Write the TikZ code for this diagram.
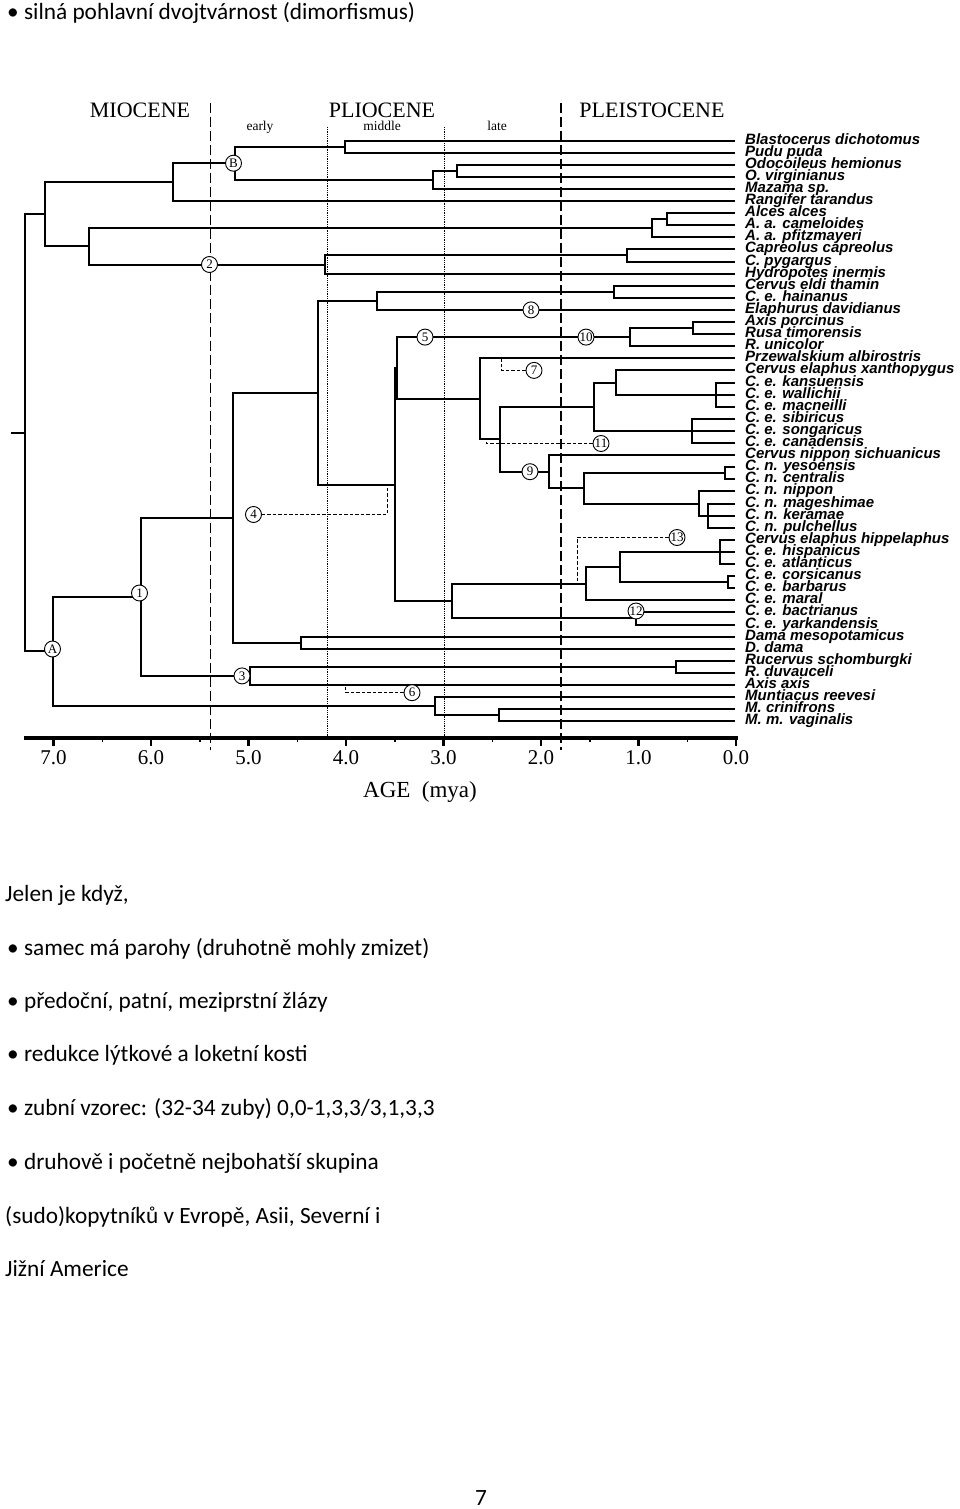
\documentclass[tikz,border=0pt]{standalone}
\usepackage{fontspec}
\setmainfont{Carlito}
\newfontfamily\labfont{Liberation Sans}
\newfontfamily\serfont{Liberation Serif}
\newcommand\brn[2]{\draw[br] (#1) |- (#2);}
\begin{document}
\begin{tikzpicture}[x=1pt,y=-1pt,
  br/.style={line width=2pt, line join=miter},
  lead/.style={line width=0.8pt, dash pattern=on 3.5pt off 2pt},
  epochline/.style={line width=1.4pt, dash pattern=on 10pt off 4pt},
  subline/.style={line width=0.9pt, dash pattern=on 0.9pt off 0.9pt},
  cl/.style={circle, draw, fill=white, line width=0.9pt, inner sep=0pt, minimum size=16pt, font=\serfont\fontsize{13}{13}\selectfont},
  sp/.style={anchor=base west, inner sep=0pt, font=\labfont\bfseries\itshape\fontsize{15}{15}\selectfont},
  body/.style={anchor=base west, inner sep=0pt, font=\fontsize{23.3}{23.3}\selectfont},
  ep/.style={anchor=base, inner sep=0pt, font=\serfont\fontsize{22}{22}\selectfont},
  sub/.style={anchor=base, inner sep=0pt, font=\serfont\fontsize{13.5}{13.5}\selectfont},
  ax/.style={anchor=base, inner sep=0pt, font=\serfont\fontsize{21}{21}\selectfont},
  axline/.style={line width=4pt},
  majt/.style={line width=2.5pt},
  mint/.style={line width=1.5pt},
]
\useasboundingbox (0,0) rectangle (960,1509);
\fill[white] (0,0) rectangle (960,1509);

% epoch boundaries
\draw[epochline] (210.5,103) -- (210.5,750);
\draw[epochline] (561,103) -- (561,750);
\draw[subline] (327,127) -- (327,737);
\draw[subline] (444,127) -- (444,737);

\node[ep] (eMio) at (140,117.5) {MIOCENE};
\node[ep] (ePli) at (382,117.5) {PLIOCENE};
\node[ep] (ePle) at (652,117.5) {PLEISTOCENE};
\node[sub] (sEar) at (260,130.5) {early};
\node[sub] (sMid) at (382,130.5) {middle};
\node[sub] (sLat) at (497,130.5) {late};

% tips and species labels
\foreach \i/\s in {0/Blastocerus dichotomus,1/Pudu puda,2/Odocoileus hemionus,3/O. virginianus,4/Mazama sp.,5/Rangifer tarandus,6/Alces alces,7/A. a. cameloides,8/A. a. pfitzmayeri,9/Capreolus capreolus,10/C. pygargus,11/Hydropotes inermis,12/Cervus eldi thamin,13/C. e. hainanus,14/Elaphurus davidianus,15/Axis porcinus,16/Rusa timorensis,17/R. unicolor,18/Przewalskium albirostris,19/Cervus elaphus xanthopygus,20/C. e. kansuensis,21/C. e. wallichii,22/C. e. macneilli,23/C. e. sibiricus,24/C. e. songaricus,25/C. e. canadensis,26/Cervus nippon sichuanicus,27/C. n. yesoensis,28/C. n. centralis,29/C. n. nippon,30/C. n. mageshimae,31/C. n. keramae,32/C. n. pulchellus,33/Cervus elaphus hippelaphus,34/C. e. hispanicus,35/C. e. atlanticus,36/C. e. corsicanus,37/C. e. barbarus,38/C. e. maral,39/C. e. bactrianus,40/C. e. yarkandensis,41/Dama mesopotamicus,42/D. dama,43/Rucervus schomburgki,44/R. duvauceli,45/Axis axis,46/Muntiacus reevesi,47/M. crinifrons,48/M. m. vaginalis}
{
  \pgfmathsetmacro\yy{140.5+12.1*\i}
  \coordinate (t\i) at (735,\yy);
  \node[sp] (s\i) at (745,\yy+3.5) {\s};
}

% internal nodes
\coordinate (nBla) at (345,146.55);
\coordinate (nOdo) at (457,170.75);
\coordinate (nOdM) at (433,179.825);
\coordinate (nB) at (235,163.19);
\coordinate (nRan) at (173,182.1);
\coordinate (nAlc) at (667,219.15);
\coordinate (nAlA) at (652,228.225);
\coordinate (nCap) at (627,255.45);
\coordinate (nHyd) at (325,264.525);
\coordinate (nCH) at (89,246.375);
\coordinate (nCapr) at (45,214.24);
\coordinate (nEld) at (614,291.75);
\coordinate (nEla) at (377,300.825);
\coordinate (nAxp) at (693,328.05);
\coordinate (nRus) at (630,337.125);
\coordinate (nKan) at (716,394.6);
\coordinate (nXan) at (616,382.5);
\coordinate (nSib) at (692,430.9);
\coordinate (nEl1) at (594,406.7);
\coordinate (nYes) at (725,473.25);
\coordinate (nMag) at (708,515.6);
\coordinate (nNip) at (699,503.5);
\coordinate (nNi2) at (584,488.375);
\coordinate (nSic) at (549,471.7375);
\coordinate (nEN) at (500,439.22);
\coordinate (nPrz) at (480,398.76);
\coordinate (nZa) at (396.5,367.94);
\coordinate (nHip) at (720,551.9);
\coordinate (nCor) at (728,582.15);
\coordinate (nWe) at (620,567.03);
\coordinate (nMar) at (586,583.66);
\coordinate (nBac) at (636,618.45);
\coordinate (nEl2) at (452,601.06);
\coordinate (nZb) at (395,484.5);
\coordinate (nCer) at (318,392.66);
\coordinate (nDam) at (301,642.65);
\coordinate (nCD) at (232.7,517.66);
\coordinate (nRuc) at (676,666.85);
\coordinate (n3) at (250,675.93);
\coordinate (n1) at (141,596.8);
\coordinate (nMu2) at (499,715.25);
\coordinate (nMun) at (435,706.18);
\coordinate (nA) at (53,651.49);
\coordinate (nRoot) at (25,432.86);
\coordinate (rootStub) at (11,432.86);

% branches
\brn{nBla}{t0} \brn{nBla}{t1}
\brn{nOdo}{t2} \brn{nOdo}{t3}
\brn{nOdM}{nOdo} \brn{nOdM}{t4}
\brn{nB}{nBla} \brn{nB}{nOdM}
\brn{nRan}{nB} \brn{nRan}{t5}
\brn{nAlc}{t6} \brn{nAlc}{t7}
\brn{nAlA}{nAlc} \brn{nAlA}{t8}
\brn{nCap}{t9} \brn{nCap}{t10}
\brn{nHyd}{nCap} \brn{nHyd}{t11}
\brn{nCH}{nAlA} \brn{nCH}{nHyd}
\brn{nCapr}{nRan} \brn{nCapr}{nCH}
\brn{nEld}{t12} \brn{nEld}{t13}
\brn{nEla}{nEld} \brn{nEla}{t14}
\brn{nAxp}{t15} \brn{nAxp}{t16}
\brn{nRus}{nAxp} \brn{nRus}{t17}
\brn{nKan}{t20} \brn{nKan}{t21} \brn{nKan}{t22}
\brn{nXan}{t19} \brn{nXan}{nKan}
\brn{nSib}{t23} \brn{nSib}{t24} \brn{nSib}{t25}
\brn{nEl1}{nXan} \brn{nEl1}{nSib}
\brn{nYes}{t27} \brn{nYes}{t28}
\brn{nMag}{t30} \brn{nMag}{t31} \brn{nMag}{t32}
\brn{nNip}{t29} \brn{nNip}{nMag}
\brn{nNi2}{nYes} \brn{nNi2}{nNip}
\brn{nSic}{t26} \brn{nSic}{nNi2}
\brn{nEN}{nEl1} \brn{nEN}{nSic}
\brn{nPrz}{t18} \brn{nPrz}{nEN}
\brn{nZa}{nRus} \brn{nZa}{nPrz}
\brn{nHip}{t33} \brn{nHip}{t34} \brn{nHip}{t35}
\brn{nCor}{t36} \brn{nCor}{t37}
\brn{nWe}{nHip} \brn{nWe}{nCor}
\brn{nMar}{nWe} \brn{nMar}{t38}
\brn{nBac}{t39} \brn{nBac}{t40}
\brn{nEl2}{nMar} \brn{nEl2}{nBac}
\brn{nZb}{nZa} \brn{nZb}{nEl2}
\brn{nCer}{nEla} \brn{nCer}{nZb}
\brn{nDam}{t41} \brn{nDam}{t42}
\brn{nCD}{nCer} \brn{nCD}{nDam}
\brn{nRuc}{t43} \brn{nRuc}{t44}
\brn{n3}{nRuc} \brn{n3}{t45}
\brn{n1}{nCD} \brn{n1}{n3}
\brn{nMu2}{t47} \brn{nMu2}{t48}
\brn{nMun}{t46} \brn{nMun}{nMu2}
\brn{nA}{n1} \brn{nA}{nMun}
\brn{nRoot}{nCapr} \brn{nRoot}{nA}
\draw[br] (rootStub) -- (nRoot);

% node circles
\node[cl] (cA) at (52.5,649) {A};
\node[cl] (cB) at (233.5,163.2) {B};
\node[cl] (c1) at (139.5,593) {1};
\node[cl] (c2) at (209.5,264.5) {2};
\node[cl] (c3) at (242,675.9) {3};
\node[cl] (c4) at (253.5,514.5) {4};
\node[cl] (c5) at (425,337.1) {5};
\node[cl] (c6) at (412,692.7) {6};
\node[cl] (c7) at (534,370.4) {7};
\node[cl] (c8) at (531,309.9) {8};
\node[cl] (c9) at (530,471.7) {9};
\node[cl] (c10) at (586,337.1) {10};
\node[cl] (c11) at (601,443.5) {11};
\node[cl] (c12) at (636,611) {12};
\node[cl] (c13) at (677,537.5) {13};

% dashed leaders
\coordinate (d4) at (387,484.5);
\coordinate (d6) at (345.3,685);
\coordinate (d7) at (501,358.3);
\coordinate (d11) at (486,439.22);
\coordinate (d13) at (577,583.66);
\draw[lead] (c4.east) -| (d4);
\draw[lead] (c6.west) -| (d6);
\draw[lead] (c7.west) -| (d7);
\draw[lead] (c11.west) -| (d11);
\draw[lead] (c13.west) -| (d13);

% time axis
\draw[axline] (24,737.5) -- (738,737.5);
\foreach \t in {0,...,7}{
  \pgfmathsetmacro\xx{736-97.5*\t}
  \draw[majt] (\xx,737.5) -- (\xx,746);
  \node[ax] (ax\t) at (\xx,764) {\t.0};
}
\foreach \t in {0,...,6}{
  \pgfmathsetmacro\xx{736-97.5*(\t+0.5)}
  \draw[mint] (\xx,737.5) -- (\xx,742);
}
\node[anchor=base, inner sep=0pt, font=\serfont\fontsize{23}{23}\selectfont] (axTitle) at (420,797.5) {AGE\ \ (mya)};

% text
\node[body] (h0) at (7,19.5) {• silná pohlavní dvojtvárnost (dimorfismus)};
\node[body] (b0) at (5,901) {Jelen je když,};
\node[body] (b1) at (7,955) {• samec má parohy (druhotně mohly zmizet)};
\node[body] (b2) at (7,1008) {• předoční, patní, meziprstní žlázy};
\node[body] (b3) at (7,1061) {• redukce lýtkové a loketní kosti};
\node[body] (b4) at (7,1115) {• zubní vzorec: (32-34 zuby) 0,0-1,3,3/3,1,3,3};
\node[body] (b5) at (7,1169) {• druhově i početně nejbohatší skupina};
\node[body] (b6) at (5,1223) {(sudo)kopytníků v Evropě, Asii, Severní i};
\node[body] (b7) at (5,1276) {Jižní Americe};
\node[anchor=base, inner sep=0pt, font=\fontsize{23.3}{23.3}\selectfont] (pg) at (481,1505) {7};
\end{tikzpicture}
\end{document}
